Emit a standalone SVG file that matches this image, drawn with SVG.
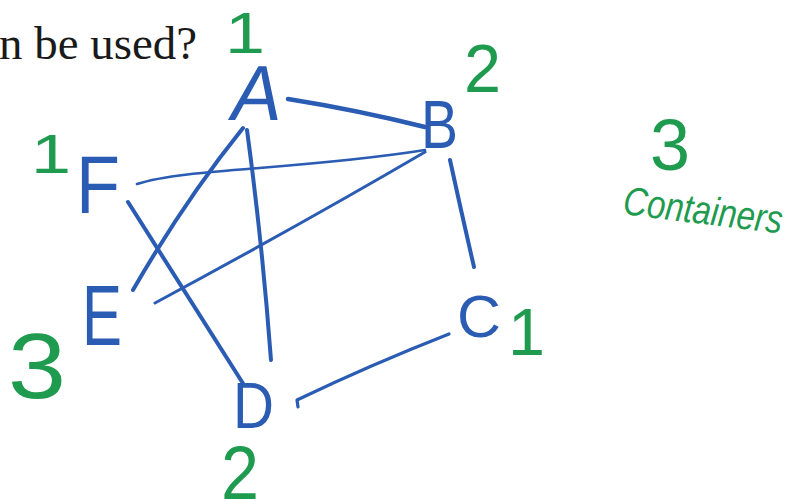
<svg xmlns="http://www.w3.org/2000/svg" width="796" height="504" viewBox="0 0 796 504">
<style>
.edge{fill:none;stroke:#2b5cb3;stroke-linecap:round;stroke-linejoin:round}
.lbl{font-family:"Liberation Sans","DejaVu Sans",sans-serif;fill:#2b5cb3}
.num{font-family:"Liberation Sans","DejaVu Sans",sans-serif;fill:#1f9b4f}
.q{font-family:"Liberation Serif","DejaVu Serif",serif;fill:#1a1a1a}
</style>
<rect width="796" height="504" fill="#ffffff"/>
<text class="q" x="-1" y="59" font-size="46" textLength="198" lengthAdjust="spacingAndGlyphs">n be used?</text>
<g id="edges">
<path class="edge" stroke-width="4.5" d="M288,99 Q357,110 425,127"/>
<path class="edge" stroke-width="2.6" d="M137,184 C185,168 300,170 425,150"/>
<path class="edge" stroke-width="3" d="M155,303 Q300,225 425,152"/>
<path class="edge" stroke-width="4" d="M133,290 Q185,200 243,128"/>
<path class="edge" stroke-width="4" d="M247,130 Q262,240 271,360"/>
<path class="edge" stroke-width="4" d="M128,202 L244,385"/>
<path class="edge" stroke-width="4" d="M450,160 Q462,215 474,267"/>
<path class="edge" stroke-width="3.2" d="M298,407 L297,400 Q370,365 449,334"/>
</g>
<g id="node-A"><text class="lbl" x="228" y="120" font-size="78" textLength="50" lengthAdjust="spacingAndGlyphs" transform="skewX(-10) translate(21,0)">A</text><text class="num" x="225" y="53" font-size="58" textLength="40" lengthAdjust="spacingAndGlyphs">1</text></g>
<g id="node-B"><text class="lbl" x="421" y="148" font-size="68" textLength="37" lengthAdjust="spacingAndGlyphs">B</text><text class="num" x="464" y="92" font-size="68" textLength="37" lengthAdjust="spacingAndGlyphs">2</text></g>
<g id="node-C"><text class="lbl" x="457" y="337" font-size="60" textLength="44" lengthAdjust="spacingAndGlyphs">C</text><text class="num" x="508" y="355" font-size="66" textLength="37" lengthAdjust="spacingAndGlyphs">1</text></g>
<g id="node-D"><text class="lbl" x="233" y="428" font-size="64" textLength="41" lengthAdjust="spacingAndGlyphs">D</text><text class="num" x="221" y="499" font-size="76" textLength="38" lengthAdjust="spacingAndGlyphs">2</text></g>
<g id="node-E"><text class="lbl" x="82" y="345" font-size="85" textLength="40" lengthAdjust="spacingAndGlyphs">E</text><text class="num" x="8" y="398" font-size="92" textLength="58" lengthAdjust="spacingAndGlyphs">3</text></g>
<g id="node-F"><text class="lbl" x="76" y="213" font-size="82" textLength="44" lengthAdjust="spacingAndGlyphs">F</text><text class="num" x="31" y="173" font-size="56" textLength="40" lengthAdjust="spacingAndGlyphs">1</text></g>
<g id="note">
<text class="num" x="650" y="170" font-size="72" textLength="40" lengthAdjust="spacingAndGlyphs">3</text>
<text class="num" x="622" y="214" font-size="40" font-style="italic" textLength="160" lengthAdjust="spacingAndGlyphs" transform="rotate(7 622 214)">Containers</text>
</g>
</svg>
